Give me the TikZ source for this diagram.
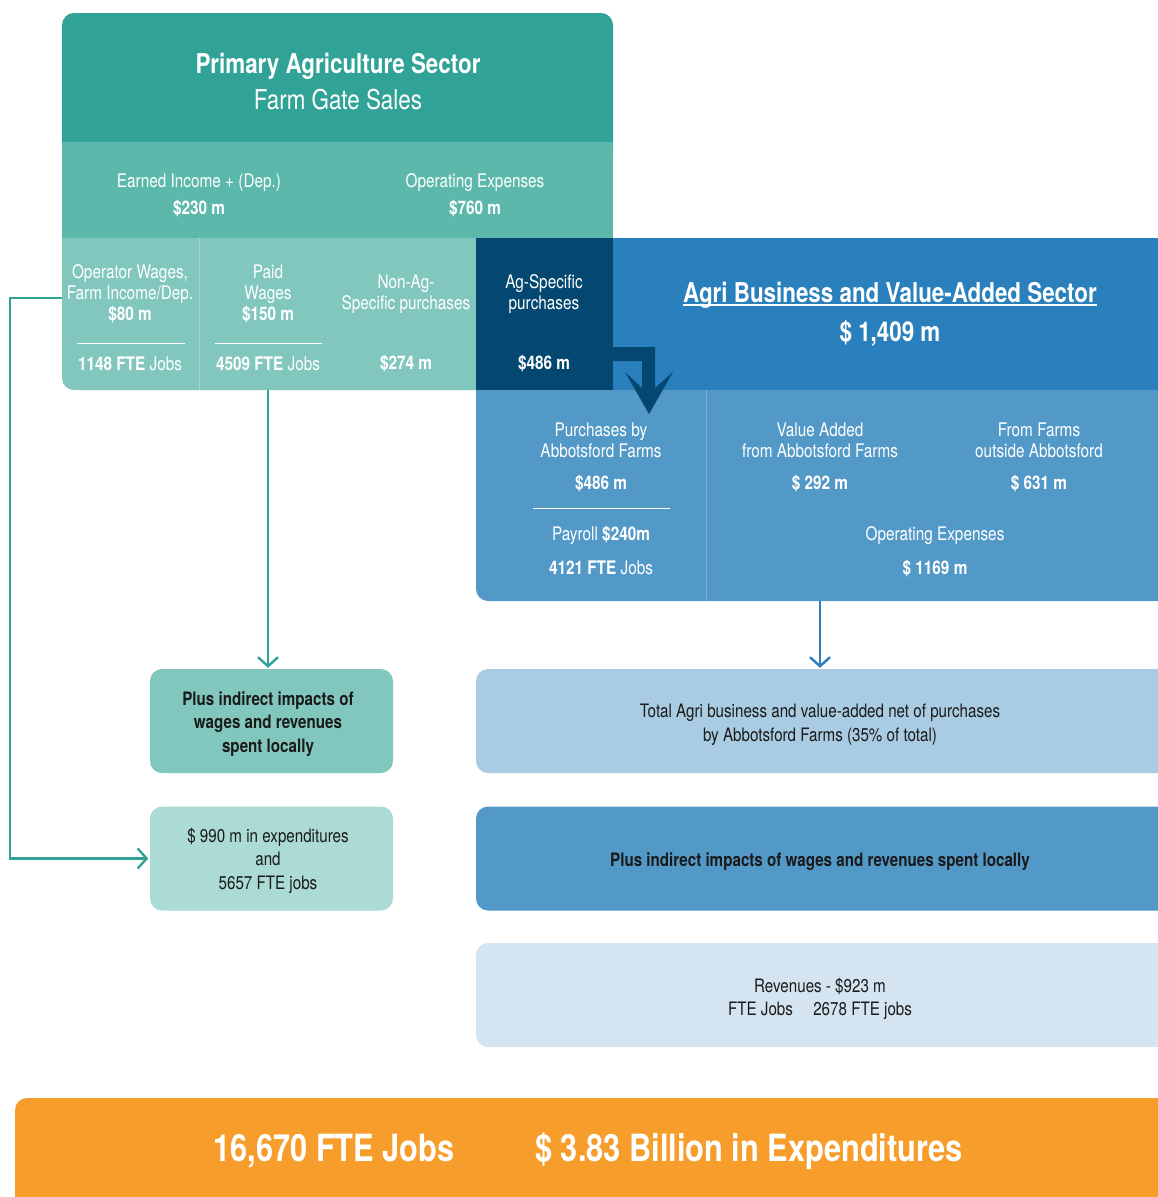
\documentclass[tikz,border=0pt]{standalone}
\usepackage{fontspec}
\setmainfont{TeX Gyre Heros}[FakeStretch=0.82]
\usetikzlibrary{arrows.meta}
\definecolor{tealA}{HTML}{30A396}
\definecolor{tealB}{HTML}{5BB8AB}
\definecolor{tealC}{HTML}{82C7BD}
\definecolor{tealD}{HTML}{ACDAD4}
\definecolor{navyA}{HTML}{044872}
\definecolor{blueA}{HTML}{2980BC}
\definecolor{blueB}{HTML}{5399C8}
\definecolor{blueC}{HTML}{A9CCE3}
\definecolor{blueD}{HTML}{D4E5F1}
\definecolor{orangeA}{HTML}{F69D2B}
\definecolor{inkA}{HTML}{1A1A1A}
\begin{document}
\begin{tikzpicture}[x=1pt,y=-1pt,
  wt/.style={text=white, align=center, inner sep=0pt, font=\fontsize{18.7}{21}\selectfont},
  big/.style={text=white, align=center, inner sep=0pt, font=\fontsize{27.3}{30}\selectfont},
  bk/.style={text=inkA, align=center, inner sep=0pt, font=\fontsize{18.5}{23.5}\selectfont},
  boxA/.style={rounded corners=12pt, minimum width=243, minimum height=104, inner sep=0pt, align=center},
  boxB/.style={rounded corners=12pt, minimum width=710, minimum height=104, inner sep=0pt},
  tealarr/.style={draw=tealA, line width=2.4pt, -{Straight Barb[length=9pt,width=20pt,line width=2.4pt]}},
  bluearr/.style={draw=blueA, line width=2.4pt, -{Straight Barb[length=9pt,width=20pt,line width=2.4pt]}},
  divl/.style={draw=white, line width=0.9pt},
  vdiv/.style={draw=white, draw opacity=0.25, line width=1pt}
]
\useasboundingbox (0,0) rectangle (1157,1197);
\fill[white] (0,0) rectangle (1157,1197);

% --- top block shapes
\fill[tealA, rounded corners=12pt] (62,13) rectangle (613,170);
\fill[tealC, rounded corners=12pt] (62,200) rectangle (500,390);
\fill[blueB, rounded corners=12pt] (476,370) rectangle (1200,601);
\fill[tealB] (62,142) rectangle (613,238);
\fill[navyA] (476,238) rectangle (613,390);
\fill[blueA] (613,238) rectangle (1200,390);
\fill[navyA] (613,347) -- (655,347) -- (655,388) -- (673,372) -- (649,414)
  -- (625,372) -- (642,388) -- (642,361) -- (613,361) -- cycle;

% dividers
\draw[vdiv] (199,238) -- (199,390);
\draw[vdiv] (706,390) -- (706,601);
\draw[divl] (77,343) -- (185,343);
\draw[divl] (215,343) -- (322,343);
\draw[divl] (533,508) -- (670,508);

% --- header texts
\node[big] (pas) at (338,66) {\bfseries Primary Agriculture Sector};
\node[big] (fgs) at (338,100) {Farm Gate Sales};
\node[wt] (ei) at (199,195) {Earned Income + (Dep.)\\[6pt]\textbf{\$230 m}};
\node[wt] (oe) at (475,195) {Operating Expenses\\[6pt]\textbf{\$760 m}};

\node[wt] (c1a) at (130,293.5) {Operator Wages,\\Farm Income/Dep.\\\textbf{\$80 m}};
\node[wt] (c1b) at (130,363.5) {\textbf{1148 FTE} Jobs};
\node[wt] (c2a) at (268,293.5) {Paid\\Wages\\\textbf{\$150 m}};
\node[wt] (c2b) at (268,363.5) {\textbf{4509 FTE} Jobs};
\node[wt] (c3a) at (406,294.5) {Non-Ag-\\Specific purchases};
\node[wt] (c3b) at (406,363.5) {\textbf{\$274 m}};
\node[wt] (n1) at (544,294.5) {Ag-Specific\\purchases};
\node[wt] (n2) at (544,363.5) {\textbf{\$486 m}};

\node[big, anchor=base] (bt) at (890,302.5) {\bfseries Agri Business and Value-Added Sector};
\draw[white, line width=1.6pt] ([yshift=-2.5pt]bt.base west) -- ([yshift=-2.5pt]bt.base east);
\node[big] (bv) at (890,333) {\bfseries \$ 1,409 m};

\node[wt] (p1) at (601,440) {Purchases by\\Abbotsford Farms};
\node[wt] (p2) at (601,483.5) {\textbf{\$486 m}};
\node[wt] (p3) at (601,535.5) {Payroll \textbf{\$240m}};
\node[wt] (p4) at (601,567.5) {\textbf{4121 FTE} Jobs};
\node[wt] (v1) at (820,440) {Value Added\\from Abbotsford Farms};
\node[wt] (v2) at (820,483.5) {\textbf{\$ 292 m}};
\node[wt] (f1) at (1039,440) {From Farms\\outside Abbotsford};
\node[wt] (f2) at (1039,483.5) {\textbf{\$ 631 m}};
\node[wt] (oe1) at (935,535.5) {Operating Expenses};
\node[wt] (oe2) at (935,568.5) {\textbf{\$ 1169 m}};

% --- lower boxes
\node[boxA, fill=tealC] (g1) at (271.5,721) {};
\node[bk] (g1t) at (268,724) {\bfseries Plus indirect impacts of\\\bfseries wages and revenues\\\bfseries spent locally};
\node[boxA, fill=tealD] (g2) at (271.5,858.5) {};
\node[bk] (g2t) at (268,860.5) {\$ 990 m in expenditures\\and\\5657 FTE jobs};

\node[boxB, fill=blueC] (b1) at (831,721) {};
\node[bk] (b1t) at (820,724.5) {Total Agri business and value-added net of purchases\\by Abbotsford Farms (35\% of total)};
\node[boxB, fill=blueB] (b2) at (831,858.5) {};
\node[bk] (b2t) at (820,861.5) {\bfseries Plus indirect impacts of wages and revenues spent locally};
\node[boxB, fill=blueD] (b3) at (831,995) {};
\node[bk] (b3t) at (820,999) {Revenues - \$923 m\\FTE Jobs\hspace{1.1em}2678 FTE jobs};

\fill[orangeA, rounded corners=12pt] (15,1098) rectangle (1200,1215);
\node[text=white, inner sep=0pt, font=\fontsize{37.5}{42}\selectfont\bfseries] (tj) at (334,1151) {16,670 FTE Jobs};
\node[text=white, inner sep=0pt, font=\fontsize{37.5}{42}\selectfont\bfseries] (te) at (749,1151) {\$ 3.83 Billion in Expenditures};

% --- connectors
\coordinate (paidout) at (268,390);
\coordinate (opout) at (62,298);
\coordinate (blout) at (820,601);
\draw[tealarr, shorten >=1pt] (paidout) -- (paidout |- g1.north);
\draw[tealarr, shorten >=1.5pt] (opout) -- ++(-52,0) |- (g2.west);
\draw[bluearr, shorten >=1pt] (blout) -- (blout |- b1.north);
\end{tikzpicture}
\end{document}
